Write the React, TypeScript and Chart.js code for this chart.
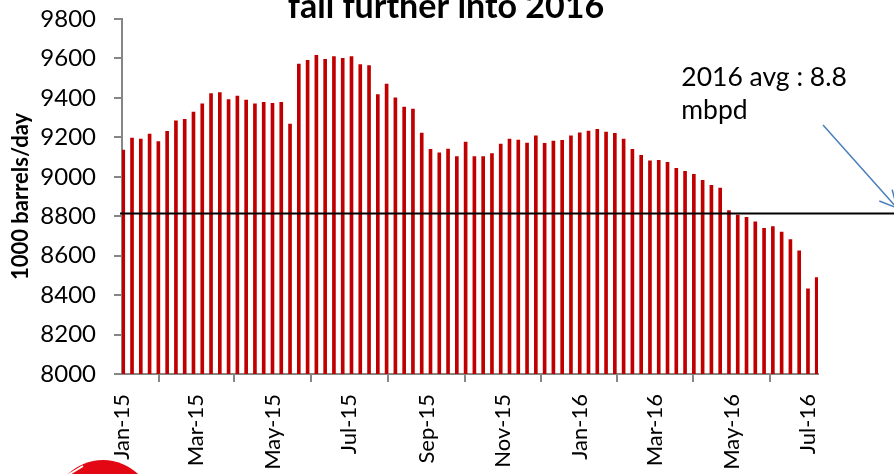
import React, { useEffect, useRef } from "react";
import { Chart, registerables } from "chart.js";
Chart.register(...registerables);

// Weekly US crude output, 1000 barrels/day (weeks ending Fridays, from Jan 2, 2015)
const weeklyOutput = [
  9135, 9196, 9191, 9216, 9179, 9230, 9284, 9291, 9328, 9370,
  9422, 9427, 9392, 9409, 9389, 9370, 9378, 9373, 9378, 9267,
  9572, 9591, 9616, 9595, 9610, 9601, 9610, 9569, 9564, 9417,
  9470, 9400, 9353, 9343, 9221, 9139, 9122, 9140, 9102, 9176,
  9102, 9102, 9117, 9166, 9191, 9186, 9171, 9208, 9169, 9181,
  9185, 9208, 9223, 9232, 9240, 9227, 9220, 9191, 9139, 9109,
  9081, 9083, 9073, 9043, 9028, 9012, 8982, 8957, 8943, 8828,
  8806, 8795, 8771, 8739, 8747, 8719, 8681, 8624, 8432, 8489,
];
// days since Jan 1, 2015 for each weekly observation
const firstWeekDay = 1;
const weekDays = weeklyOutput.map((_, i) => firstWeekDay + 7 * i);

const tickDays = [0, 59, 120, 181, 243, 304, 365, 425, 486, 547];
const tickLabels = ["Jan-15", "Mar-15", "May-15", "Jul-15", "Sep-15", "Nov-15", "Jan-16", "Mar-16", "May-16", "Jul-16"];

const avg2016 = 8815;
const titleText = "fall further into 2016";
const noteLines = ["2016 avg : 8.8", "mbpd"];
const arrowFrom = { x: 559, y: 9262 };
const arrowTo = { x: 618, y: 8842 };
const noteAt = { x: 446, y: 9460 };

const FONT = "Lato, 'Open Sans', sans-serif";

const overlay = {
  id: "overlay",
  afterDatasetsDraw(chart: any) {
    const { ctx, scales, chartArea } = chart;
    const xs = scales.x;
    const ys = scales.y;
    ctx.save();
    // average line
    const yAvg = Math.round(ys.getPixelForValue(avg2016)) + 0.5;
    ctx.strokeStyle = "#000";
    ctx.lineWidth = 2;
    ctx.beginPath();
    ctx.moveTo(chartArea.left - 2, yAvg);
    ctx.lineTo(chart.width, yAvg);
    ctx.stroke();

    // arrow
    const x1 = xs.getPixelForValue(arrowFrom.x);
    const y1 = ys.getPixelForValue(arrowFrom.y);
    const x2 = xs.getPixelForValue(arrowTo.x);
    const y2 = ys.getPixelForValue(arrowTo.y);
    ctx.strokeStyle = "#4a7ebb";
    ctx.lineWidth = 1.5;
    ctx.beginPath();
    ctx.moveTo(x1, y1);
    ctx.lineTo(x2, y2);
    const ang = Math.atan2(y1 - y2, x1 - x2);
    const hl = 19;
    const ha = 0.47;
    ctx.moveTo(x2, y2);
    ctx.lineTo(x2 + hl * Math.cos(ang + ha), y2 + hl * Math.sin(ang + ha));
    ctx.moveTo(x2, y2);
    ctx.lineTo(x2 + hl * Math.cos(ang - ha), y2 + hl * Math.sin(ang - ha));
    ctx.stroke();

    // note text
    ctx.fillStyle = "#000";
    ctx.font = `26.5px ${FONT}`;
    ctx.textAlign = "left";
    ctx.textBaseline = "alphabetic";
    const nx = xs.getPixelForValue(noteAt.x);
    const ny = ys.getPixelForValue(noteAt.y);
    noteLines.forEach((t, i) => ctx.fillText(t, nx, ny + i * 33));

    // title (cut at top)
    ctx.font = `bold 34px ${FONT}`;
    ctx.textAlign = "center";
    ctx.fillText(titleText, 446, 18);

    // logo fragment
    ctx.fillStyle = "#e30613";
    ctx.beginPath();
    ctx.arc(103, 511, 51, 0, Math.PI * 2);
    ctx.fill();
    ctx.strokeStyle = "#fff";
    ctx.lineWidth = 2;
    ctx.beginPath();
    ctx.moveTo(68, 475);
    ctx.lineTo(83, 466);
    ctx.stroke();
    ctx.restore();
  },
};

export default function App() {
  const ref = useRef<HTMLCanvasElement>(null);
  useEffect(() => {
    if (!ref.current) return;
    Chart.defaults.font.family = FONT;
    const gridOpts = {
      drawOnChartArea: false,
      drawTicks: true,
      tickLength: 8,
      color: "#868686",
      lineWidth: 2,
    };
    const chart = new Chart(ref.current, {
      type: "bar",
      data: {
        datasets: [
          {
            data: weekDays.map((d, i) => ({ x: d, y: weeklyOutput[i] })),
            backgroundColor: "#c00000",
            borderWidth: 0,
            barThickness: 3,
          } as any,
        ],
      },
      options: {
        animation: false,
        responsive: false,
        layout: { padding: { top: 19, right: 76, left: 0, bottom: 0 } },
        plugins: {
          legend: { display: false },
          tooltip: { enabled: false },
          title: { display: false },
        },
        scales: {
          x: {
            type: "linear",
            min: 0,
            max: 555,
            offset: false,
            afterBuildTicks: (s: any) => {
              s.ticks = tickDays.map((v) => ({ value: v }));
            },
            afterFit: (s: any) => {
              s.height = 100;
              s.paddingLeft = 0;
              s.paddingRight = 0;
            },
            ticks: {
              autoSkip: false,
              minRotation: 90,
              maxRotation: 90,
              padding: 12,
              color: "#000",
              font: { size: 22 },
              callback: (_v: any, i: number) => tickLabels[i] ?? "",
            },
            grid: gridOpts,
            border: { color: "#868686", width: 2 },
          } as any,
          y: {
            min: 8000,
            max: 9800,
            afterFit: (s: any) => {
              s.width = 122;
              s.paddingTop = 0;
              s.paddingBottom = 0;
            },
            ticks: {
              stepSize: 200,
              padding: 18,
              color: "#000",
              font: { size: 24 },
              callback: (v: any) => String(v),
            },
            grid: gridOpts,
            border: { color: "#868686", width: 2 },
            title: {
              display: true,
              text: "1000 barrels/day",
              color: "#000",
              font: { size: 22, weight: "bold" },
              padding: { top: 8, bottom: 0 },
            },
          } as any,
        },
      },
      plugins: [overlay],
    });
    return () => chart.destroy();
  }, []);
  return (
    <div style={{ position: "fixed", left: 0, top: 0, width: 894, height: 474, background: "#fff" }}>
      <canvas ref={ref} width={894} height={474} />
    </div>
  );
}
